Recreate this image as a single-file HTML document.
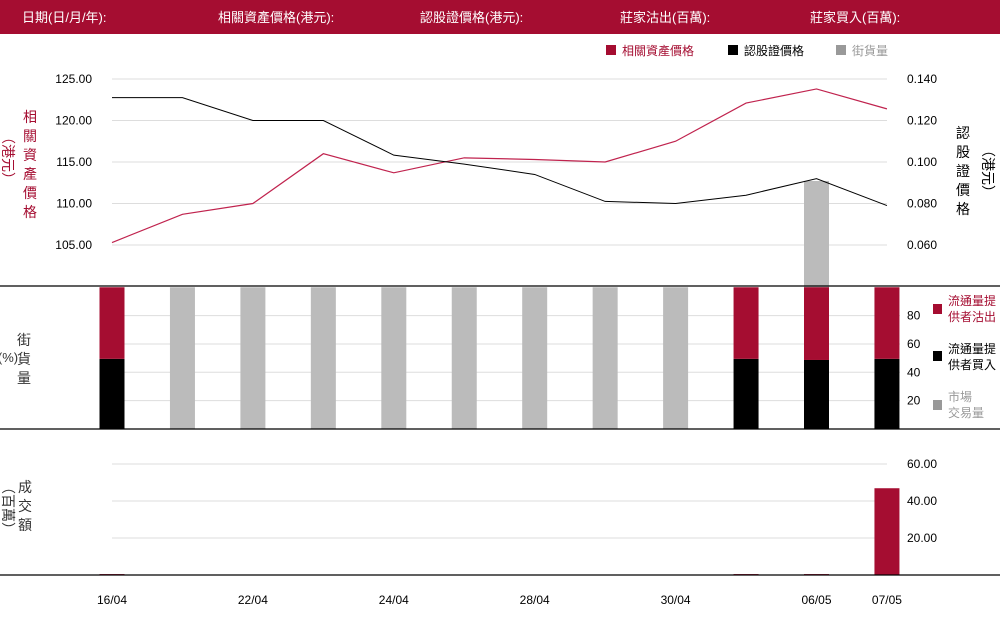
<!DOCTYPE html>
<html><head><meta charset="utf-8"><style>
body{margin:0;width:1000px;height:620px;overflow:hidden;background:#fff;font-family:"Liberation Sans","Noto Sans CJK TC",sans-serif;}
</style></head><body>
<svg id="c" width="1000" height="620" xmlns="http://www.w3.org/2000/svg" font-family="Liberation Sans, Noto Sans CJK TC, sans-serif">
<rect x="0" y="0" width="1000" height="34" fill="#a50d31"/>
<g fill="#fff" font-size="13">
<text x="22" y="22">日期(日/月/年):</text>
<text x="218" y="22">相關資產價格(港元):</text>
<text x="420" y="22">認股證價格(港元):</text>
<text x="620" y="22">莊家沽出(百萬):</text>
<text x="810" y="22">莊家買入(百萬):</text>
</g>
<g font-size="12">
<rect x="606" y="45" width="10" height="10" fill="#a50d31"/>
<text x="622" y="55" fill="#a50d31">相關資產價格</text>
<rect x="728" y="45" width="10" height="10" fill="#000"/>
<text x="744" y="55" fill="#000">認股證價格</text>
<rect x="836" y="45" width="10" height="10" fill="#999"/>
<text x="852" y="55" fill="#999">街貨量</text>
</g>
<g id="grid"></g><g id="bars"></g><g id="lines"></g><g id="labels" font-size="12"></g>
<line x1="0" y1="286" x2="1000" y2="286" stroke="#000" stroke-width="1.2"/>
<line x1="0" y1="429" x2="1000" y2="429" stroke="#000" stroke-width="1.2"/>
<line x1="0" y1="575" x2="1000" y2="575" stroke="#000" stroke-width="1.2"/>
<g font-size="14" fill="#a50d31" text-anchor="middle">
<text x="30" y="122">相</text><text x="30" y="141">關</text><text x="30" y="160">資</text><text x="30" y="179">產</text><text x="30" y="198">價</text><text x="30" y="217">格</text>
<text x="7" y="162" transform="rotate(90 7 158)">（港元）</text>
</g>
<g font-size="14" fill="#000" text-anchor="middle">
<text x="963" y="138">認</text><text x="963" y="157">股</text><text x="963" y="176">證</text><text x="963" y="195">價</text><text x="963" y="214">格</text>
<text x="987" y="175" transform="rotate(90 987 171)">（港元）</text>
</g>
<g font-size="14" fill="#333" text-anchor="middle">
<text x="24" y="345">街</text><text x="24" y="364">貨</text><text x="24" y="383">量</text>
<text x="8" y="362" font-size="13">(%)</text>
</g>
<g font-size="14" fill="#333" text-anchor="middle">
<text x="25" y="492">成</text><text x="25" y="511">交</text><text x="25" y="530">額</text>
<text x="7" y="512" transform="rotate(90 7 508)">（百萬）</text>
</g>
<g font-size="12">
<rect x="933" y="304" width="9" height="10" fill="#a50d31"/>
<text x="948" y="305" fill="#a50d31">流通量提</text><text x="948" y="321" fill="#a50d31">供者沽出</text>
<rect x="933" y="351" width="9" height="10" fill="#000"/>
<text x="948" y="353" fill="#000">流通量提</text><text x="948" y="369" fill="#000">供者買入</text>
<rect x="933" y="400" width="9" height="10" fill="#999"/>
<text x="948" y="401" fill="#999">市場</text><text x="948" y="417" fill="#999">交易量</text>
</g>
</svg>
<script>
const categories=["16/04","17/04","22/04","23/04","24/04","25/04","28/04","29/04","30/04","02/05","06/05","07/05"];
const xLabels=["16/04","","22/04","","24/04","","28/04","","30/04","","06/05","07/05"];
const underlying=[105.3,108.7,110.0,116.0,113.7,115.5,115.3,115.0,117.5,122.1,123.8,121.4];
const warrant=[0.131,0.131,0.120,0.120,0.1033,0.099,0.094,0.081,0.080,0.084,0.092,0.079];
const marketVol=[0,100,100,100,100,100,100,100,100,0,175,0];
const mmBuy=[49.5,0,0,0,0,0,0,0,0,49.5,48.7,49.5];
const mmSell=[50.5,0,0,0,0,0,0,0,0,50.5,51.3,50.5];
const turnover=[0.5,0,0,0,0,0,0,0,0,0.5,0.5,46.9];
const leftTicks=[105,110,115,120,125];
const rightTicks=[0.06,0.08,0.10,0.12,0.14];
const volTicks=[20,40,60,80];
const turnTicks=[20,40,60];

const NS="http://www.w3.org/2000/svg";
const xS=i=>112+i*70.45;
const yL=v=>245-(v-105)*8.3;
const yR=v=>245-(v-0.06)*2075;
const yV=v=>429-v*1.4175;
const yT=v=>575-v*1.85;
function mk(parent,tag,attrs){const e=document.createElementNS(NS,tag);for(const k in attrs)e.setAttribute(k,attrs[k]);document.getElementById(parent).appendChild(e);return e;}
leftTicks.forEach((t,i)=>{
 const l=mk('grid','line',{x1:112,x2:887,y1:yL(t),y2:yL(t),stroke:'#ddd'});
 
 
 const tx=mk('labels','text',{x:92,y:yL(t)+4,'text-anchor':'end',fill:'#000'});tx.textContent=t.toFixed(2);
 
 
});
rightTicks.forEach(t=>{
 const tx=mk('labels','text',{x:907,y:yR(t)+4,fill:'#000'});tx.textContent=t.toFixed(3);
 
 
});
volTicks.forEach(t=>{
 const l=mk('grid','line',{x1:100,x2:900,y1:yV(t),y2:yV(t),stroke:'#ddd'});
 
 
 const tx=mk('labels','text',{x:907,y:yV(t)+4,fill:'#000'});tx.textContent=t;
 
 
});
turnTicks.forEach(t=>{
 const l=mk('grid','line',{x1:112,x2:887,y1:yT(t),y2:yT(t),stroke:'#ddd'});
 
 
 const tx=mk('labels','text',{x:907,y:yT(t)+4,fill:'#000'});tx.textContent=t.toFixed(2);
 
 
});
categories.forEach((c,i)=>{
 const x=xS(i)-12.5;
 if(marketVol[i]>0){const r=mk('bars','rect',{x:x,width:25,y:yV(marketVol[i]),height:429-yV(marketVol[i]),fill:'#bbb'});
  
  }
 if(mmBuy[i]>0){const r=mk('bars','rect',{x:x,width:25,y:yV(mmBuy[i]),height:429-yV(mmBuy[i]),fill:'#000'});
  
  }
 if(mmSell[i]>0){const r=mk('bars','rect',{x:x,width:25,y:yV(mmBuy[i]+mmSell[i]),height:yV(mmBuy[i])-yV(mmBuy[i]+mmSell[i]),fill:'#a50d31'});
  
  }
 if(turnover[i]>0){const r=mk('bars','rect',{x:x,width:25,y:yT(turnover[i]),height:575-yT(turnover[i]),fill:'#a50d31'});
  
  }
 if(xLabels[i]){const tx=mk('labels','text',{x:xS(i),y:604,'text-anchor':'middle',fill:'#000'});tx.textContent=xLabels[i];
  
  }
});
const p1=mk('lines','polyline',{points:underlying.map((v,i)=>xS(i)+','+yL(v)).join(' '),fill:'none',stroke:'#c0234e','stroke-width':1.2});


const p2=mk('lines','polyline',{points:warrant.map((v,i)=>xS(i)+','+yR(v)).join(' '),fill:'none',stroke:'#000','stroke-width':1});


</script>
</body></html>
